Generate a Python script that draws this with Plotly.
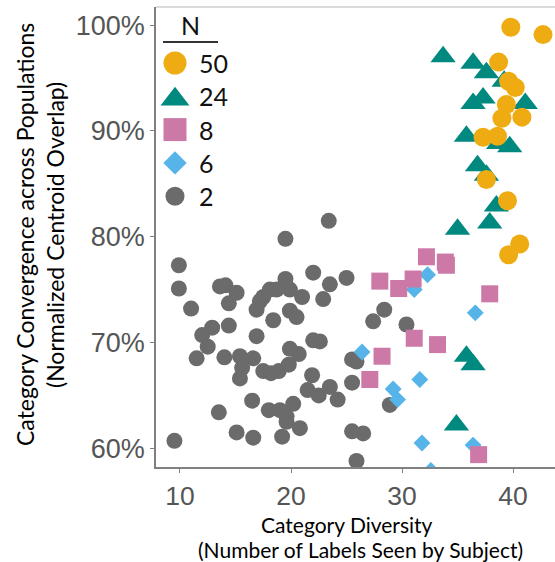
import plotly.graph_objects as go

# ---- data: category diversity (x) vs. convergence in percent (y), by group size N ----
n2_x = [23.4, 19.5, 9.9, 22.0, 25.0, 23.5, 19.5, 9.9, 13.6, 14.1, 15.1, 14.4, 18.1, 18.7,
        17.5, 17.2, 16.9, 19.9, 21.0, 22.9, 11.0, 19.9, 20.5, 18.4, 14.4, 16.9, 12.9, 12.0,
        12.5, 11.5, 14.0, 15.4, 16.6, 15.6, 15.4, 17.5, 18.2, 18.9, 19.8, 19.9, 20.7, 22.0,
        22.6, 21.9, 21.5, 22.5, 23.5, 24.2, 20.2, 19.6, 16.5, 18.0, 19.0, 19.6, 20.8, 19.2,
        13.5, 15.1, 16.6, 9.5, 28.4, 27.4, 30.4, 25.5, 25.9, 25.5, 28.9, 25.5, 26.5, 25.9]
n2_y = [81.5, 79.8, 77.3, 76.6, 76.1, 75.5, 76.0, 75.1, 75.3, 75.4, 74.7, 73.7, 75.0, 75.0,
        74.3, 73.9, 73.1, 75.0, 74.3, 74.1, 73.2, 73.0, 72.4, 72.1, 71.6, 70.6, 71.4, 70.7,
        69.6, 68.5, 68.6, 68.7, 68.5, 67.6, 66.6, 67.3, 67.1, 67.3, 67.9, 69.4, 68.9, 70.2,
        70.1, 66.9, 65.5, 65.0, 65.8, 64.6, 64.2, 63.0, 64.5, 63.6, 63.6, 62.5, 61.9, 61.1,
        63.4, 61.5, 61.0, 60.7, 73.1, 72.0, 71.7, 68.4, 68.2, 66.2, 64.1, 61.6, 61.4, 58.8]

n6_x = [32.3, 31.1, 36.6, 26.4, 31.6, 29.2, 29.6, 31.8, 36.4, 32.6]
n6_y = [76.4, 75.0, 72.8, 69.1, 66.5, 65.6, 64.6, 60.5, 60.3, 57.9]

n8_x = [32.2, 33.9, 34.0, 28.0, 29.7, 31.0, 37.9, 31.1, 33.2, 28.2, 27.1, 36.9]
n8_y = [78.1, 77.6, 77.3, 75.8, 75.1, 76.0, 74.6, 70.4, 69.8, 68.7, 66.5, 59.4]

n24_x = [33.7, 36.4, 37.6, 39.2, 36.4, 37.3, 41.1, 35.8, 38.7, 39.7, 36.8, 37.6, 38.5,
         37.9, 35.0, 35.8, 36.4, 34.9]
n24_y = [97.0, 96.4, 95.5, 94.7, 92.6, 93.1, 92.6, 89.5, 88.8, 88.5, 86.7, 85.8, 82.9,
         81.3, 80.7, 68.7, 67.9, 62.2]

n50_x = [39.8, 42.7, 38.7, 39.6, 40.2, 39.4, 39.0, 40.8, 37.3, 38.6, 37.6, 39.5, 40.6, 39.6]
n50_y = [99.8, 99.1, 96.5, 94.7, 94.1, 92.5, 91.2, 91.3, 89.4, 89.5, 85.4, 83.4, 79.3, 78.3]

x_ticks = [10, 20, 30, 40]
y_ticks = [60, 70, 80, 90, 100]
y_ticktext = [f"{v}%" for v in y_ticks]

# legend order (top to bottom) and group styling
legend_labels = ["50", "24", "8", "6", "2"]
groups = {
    "2":  dict(x=n2_x,  y=n2_y,  color="#6b6b6b", symbol="circle",      size=16, leg=19),
    "6":  dict(x=n6_x,  y=n6_y,  color="#56b4e9", symbol="diamond",     size=13, leg=18),
    "8":  dict(x=n8_x,  y=n8_y,  color="#cc79a7", symbol="square",      size=17, leg=23),
    "24": dict(x=n24_x, y=n24_y, color="#00897f", symbol="triangle-up", size=22, leg=25),
    "50": dict(x=n50_x, y=n50_y, color="#efab12", symbol="circle",      size=19, leg=23),
}
draw_order = ["2", "6", "8", "24", "50"]

LEGEND_FONT = "Lato"
TITLE_FONT = "Lato"
TICK_FONT = "Liberation Sans, Arial, sans-serif"

# page / plot-area geometry in px
W, H = 555, 562
ML, MR, MT, MB = 156, 0, 7, 95
PW, PH = W - ML - MR, H - MT - MB


def px_x(px):
    """page x pixel -> paper fraction"""
    return (px - ML) / PW


def px_y(py):
    """page y pixel (from top) -> paper fraction"""
    return (H - MB - py) / PH


fig = go.Figure()

for key in draw_order:
    g = groups[key]
    fig.add_trace(go.Scatter(
        x=g["x"], y=g["y"], mode="markers", name=key, showlegend=False,
        marker=dict(color=g["color"], symbol=g["symbol"], size=g["size"],
                    line=dict(width=0)),
    ))

# hand-built legend drawn on a pixel-scaled overlay axis
leg_x, leg_y0, leg_dy = 19, 56, 33.3
for i, key in enumerate(legend_labels):
    g = groups[key]
    yy = leg_y0 + i * leg_dy + (3 if g["symbol"] == "triangle-up" else 0)
    fig.add_trace(go.Scatter(
        x=[leg_x], y=[yy], xaxis="x2", yaxis="y2", mode="markers", showlegend=False,
        marker=dict(color=g["color"], symbol=g["symbol"], size=g["leg"], line=dict(width=0)),
        hoverinfo="skip",
    ))
    fig.add_annotation(x=41, y=leg_y0 + i * leg_dy, xref="x2", yref="y2", text=key,
                       showarrow=False, xanchor="left", yanchor="middle",
                       font=dict(family=LEGEND_FONT, size=25, color="#111"))

fig.add_annotation(x=34, y=18, xref="x2", yref="y2", text="N", showarrow=False,
                   xanchor="center", yanchor="middle",
                   font=dict(family=LEGEND_FONT, size=25, color="#111"))
fig.add_shape(type="line", xref="x2", yref="y2", x0=7, x1=62, y0=35, y1=35,
              line=dict(color="#333", width=2))

# axis titles (two lines each)
def centered(size):
    return dict(xref="paper", yref="paper", showarrow=False, xanchor="center",
                yanchor="middle", font=dict(family=TITLE_FONT, size=size, color="#000"))


fig.add_annotation(x=px_x(25), y=px_y(235), textangle=-90,
                   text="Category Convergence across Populations", **centered(23))
fig.add_annotation(x=px_x(55), y=px_y(235), textangle=-90,
                   text="(Normalized Centroid Overlap)", **centered(23))
fig.add_annotation(x=px_x(347), y=px_y(524), text="Category Diversity", **centered(21))
fig.add_annotation(x=px_x(360), y=px_y(549.3), text="(Number of Labels Seen by Subject)",
                   **centered(21))

# light frame line along the top of the panel
fig.add_shape(type="line", xref="paper", yref="paper", x0=0, x1=1, y0=1, y1=1,
              line=dict(color="#cfcfcf", width=1.5))

axis_common = dict(showline=True, linecolor="#808080", linewidth=1.5, ticks="outside",
                   ticklen=4, tickwidth=1.2, tickcolor="#808080", showgrid=False,
                   zeroline=False)
tick_font = dict(family=TICK_FONT, color="#555")

fig.update_layout(
    width=W, height=H,
    margin=dict(l=ML, r=MR, t=MT, b=MB, pad=0),
    paper_bgcolor="white", plot_bgcolor="white",
    xaxis=dict(range=[7.84, 43.78], tickmode="array", tickvals=x_ticks,
               ticktext=[str(v) for v in x_ticks], tickfont=dict(size=26.5, **tick_font),
               **axis_common),
    yaxis=dict(range=[58.23, 101.71], tickmode="array", tickvals=y_ticks,
               ticktext=y_ticktext, tickfont=dict(size=27, **tick_font), **axis_common),
    xaxis2=dict(overlaying="x", anchor="y2", range=[0, PW], visible=False, fixedrange=True),
    yaxis2=dict(overlaying="y", anchor="x2", range=[PH, 0], visible=False, fixedrange=True),
    showlegend=False,
)

fig.write_html("out.html")
